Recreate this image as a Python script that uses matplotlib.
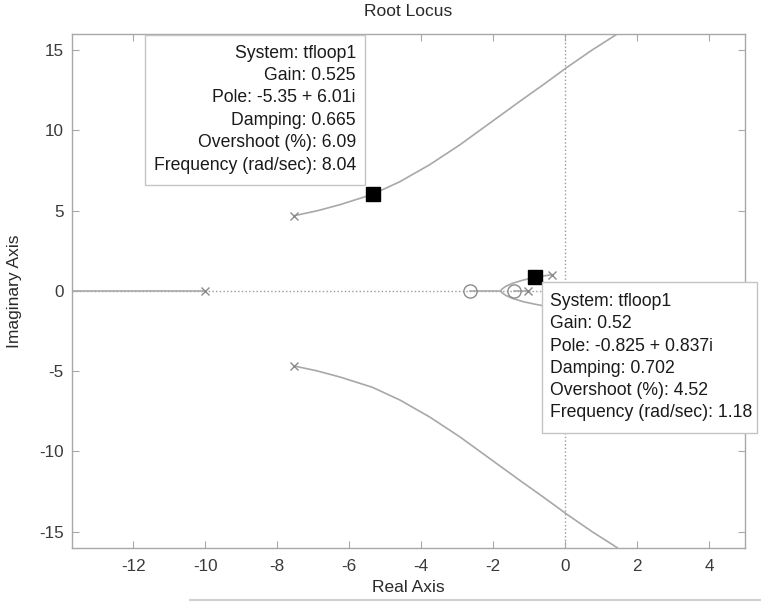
import matplotlib
matplotlib.use("Agg")
import matplotlib.pyplot as plt
from matplotlib.patches import Rectangle
from matplotlib.lines import Line2D
import numpy as np

plt.rcParams['font.family'] = ['Liberation Sans', 'DejaVu Sans']
plt.rcParams['axes.unicode_minus'] = False

# open-loop poles and zeros
pole_re = [-10.0, -7.53, -7.53, -1.04, -0.35, -0.35]
pole_im = [0.0, 4.68, -4.68, 0.0, 1.01, -1.01]
zero_re = [-2.65, -1.43]
zero_im = [0.0, 0.0]

# upper complex branch (lower one is its conjugate)
upper_re = [-7.53, -6.9, -6.25, -5.35, -4.59, -3.76, -2.92, -2.09, -1.26, -0.57, 0.04, 0.75, 1.45]
upper_im = [4.68, 4.98, 5.37, 6.01, 6.80, 7.86, 9.10, 10.45, 11.8, 12.9, 13.9, 15.0, 16.0]

# loop leaving the lightly damped pole pair, breaking in on the real axis
loop_re = [-0.35, -0.6, -0.825, -1.15, -1.45, -1.65, -1.76, -1.78]
loop_im = [1.01, 0.93, 0.837, 0.68, 0.48, 0.28, 0.10, 0.0]

# real-axis segments of the locus
real_segments = [(-10.0, -14.0), (-2.65, -1.78), (-1.43, -1.04)]

# selected points
sel_re = [-5.35, -0.825]
sel_im = [6.01, 0.837]

tip1 = ["System: tfloop1", "Gain: 0.525", "Pole: -5.35 + 6.01i",
        "Damping: 0.665", "Overshoot (%): 6.09", "Frequency (rad/sec): 8.04"]
tip2 = ["System: tfloop1", "Gain: 0.52", "Pole: -0.825 + 0.837i",
        "Damping: 0.702", "Overshoot (%): 4.52", "Frequency (rad/sec): 1.18"]

W, H = 761, 605
fig = plt.figure(figsize=(W / 100, H / 100), dpi=100)
ax = fig.add_axes([72 / W, 1 - 547.7 / H, (745 - 72) / W, (547.7 - 34) / H])

line_col = '#a8a8a8'
mark_col = '#8c8c8c'

ax.axvline(0, color='#9a9a9a', ls=':', lw=1.0, zorder=1)
ax.axhline(0, color='#9a9a9a', ls=':', lw=1.0, zorder=1)

ax.plot(upper_re, upper_im, color=line_col, lw=1.2, zorder=2)
ax.plot(upper_re, [-v for v in upper_im], color=line_col, lw=1.2, zorder=2)
ax.plot(loop_re, loop_im, color=line_col, lw=1.2, zorder=2)
ax.plot(loop_re, [-v for v in loop_im], color=line_col, lw=1.2, zorder=2)
for a, b in real_segments:
    ax.plot([a, b], [0, 0], color=line_col, lw=1.2, zorder=2)

ax.plot(pole_re, pole_im, ls='none', marker='x', ms=6, mew=1.0, color=mark_col, zorder=3)
ax.plot(zero_re, zero_im, ls='none', marker='o', ms=9.5, mew=1.0, mfc='none', mec=mark_col, zorder=3)
ax.plot(sel_re, sel_im, ls='none', marker='s', ms=9.5, color='black', zorder=4)

ax.set_xlim(-13.7, 5)
ax.set_ylim(-16, 16)
ax.set_xticks(np.arange(-12, 5, 2))
ax.set_yticks(np.arange(-15, 16, 5))
for s in ax.spines.values():
    s.set_color('#a8a8a8')
    s.set_linewidth(1.0)
ax.tick_params(direction='in', length=5, width=0.8, color='#a8a8a8',
               labelcolor='#3a3a3a', labelsize=12.3, top=True, right=True, pad=6)
ax.tick_params(axis='x', pad=8)

ax.set_xlabel('Real Axis', fontsize=12.5, color='#2a2a2a')
ax.set_ylabel('Imaginary Axis', fontsize=12.5, color='#2a2a2a')
ax.xaxis.set_label_coords(0.5, -0.063)
ax.yaxis.set_label_coords(-0.075, 0.5)
ax.text(0.5, 1.043, 'Root Locus', ha='center', va='center', fontsize=12.5,
        color='#2a2a2a', transform=ax.transAxes)


def px_box(x0, y0, x1, y1):
    r = Rectangle((x0 / W, 1 - y1 / H), (x1 - x0) / W, (y1 - y0) / H,
                  transform=fig.transFigure, fc='white', ec='#c4c4c4', lw=1.0, zorder=5)
    fig.add_artist(r)


def px_lines(lines, x, y_first, step, ha):
    for i, s in enumerate(lines):
        fig.text(x / W, 1 - (y_first + i * step) / H, s, ha=ha, va='center',
                 fontsize=12.7, color='#1a1a1a', zorder=6)


px_box(145, 35, 365, 185)
px_lines(tip1, 356, 53, 22.4, 'right')
px_box(541.7, 282, 757, 433)
px_lines(tip2, 550, 301.7, 22.2, 'left')

# thin rule along the lower edge
fig.add_artist(Line2D([0.25, 1.0], [0.008, 0.008], transform=fig.transFigure,
                      color='#d0d0d0', lw=1.5))

fig.savefig('out.png', dpi=100)
